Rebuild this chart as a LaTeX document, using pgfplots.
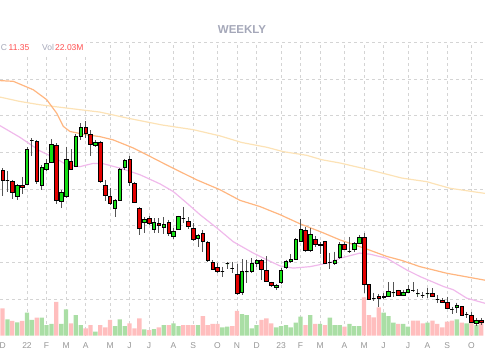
\documentclass[border=0pt]{standalone}
\usepackage{pgfplots}
\pgfplotsset{compat=1.18}
\usepackage{pgfplotstable}
\usepackage{fontspec}
\setmainfont{Liberation Sans}

\definecolor{candlered}{RGB}{228,0,0}
\definecolor{candlegreen}{RGB}{20,222,20}
\definecolor{wickcol}{RGB}{85,85,85}
\definecolor{volred}{RGB}{255,190,190}
\definecolor{volgreen}{RGB}{170,222,165}
\definecolor{mapink}{RGB}{240,185,235}
\definecolor{maorange}{RGB}{255,182,128}
\definecolor{mapale}{RGB}{252,226,182}
\definecolor{gridcol}{RGB}{212,212,212}
\definecolor{labelcol}{RGB}{150,150,150}
\definecolor{titlecol}{RGB}{165,168,185}
\definecolor{legred}{RGB}{255,80,80}

\pgfdeclareplotmark{blankmark}{}

\pgfplotstableread{
i O H L C V up
-5 15.52 15.57 14.81 15.23 41.0 0
-4 15.25 15.50 14.92 15.25 24.4 1
-3 15.22 15.25 14.73 14.92 21.9 0
-2 14.81 15.14 14.70 15.09 19.9 1
-1 15.11 15.33 14.87 15.06 21.9 0
0 15.14 16.14 15.10 16.08 34.4 1
1 16.34 16.39 15.89 16.34 23.4 1
2 16.29 16.34 15.14 15.20 26.9 0
3 15.11 15.66 14.98 15.60 26.9 1
4 15.54 15.83 15.50 15.69 15.8 1
5 15.74 16.36 15.72 16.21 17.4 1
6 16.18 16.25 14.60 14.69 50.6 0
7 14.66 14.98 14.47 14.90 17.4 1
8 14.79 16.16 14.76 15.82 39.5 1
9 15.75 16.09 15.52 15.54 18.4 0
10 15.61 16.50 15.59 16.43 30.9 1
11 16.45 16.80 16.34 16.69 15.8 1
12 16.69 16.85 16.40 16.51 10.9 0
13 16.49 16.60 15.89 16.21 15.8 0
14 16.18 16.33 16.16 16.28 5.7 1
15 16.27 16.32 15.16 15.20 15.8 0
16 15.11 15.25 14.68 14.84 12.4 0
17 14.81 15.03 14.57 14.60 23.4 0
18 14.48 14.72 14.24 14.68 14.3 1
19 14.70 15.57 14.69 15.54 24.4 1
20 15.60 15.82 15.52 15.78 14.3 1
21 15.82 15.91 15.09 15.18 18.4 0
22 15.16 15.20 14.61 14.63 10.9 0
23 14.48 14.51 13.75 13.93 26.0 0
24 14.08 14.23 13.81 14.16 9.4 1
25 14.20 14.27 14.02 14.07 8.3 0
26 13.90 14.20 13.81 14.10 9.8 1
27 14.05 14.20 13.80 14.02 12.4 0
28 13.96 14.23 13.78 14.04 15.8 1
29 14.09 14.16 13.72 13.78 15.8 0
30 13.72 13.93 13.63 13.84 18.4 1
31 13.90 14.27 13.89 14.25 14.3 1
32 14.20 14.51 14.08 14.20 15.8 0
33 14.11 14.23 13.90 13.99 15.8 0
34 13.93 14.07 13.59 13.63 15.8 0
35 13.65 13.78 13.43 13.74 15.8 1
36 13.78 13.87 13.29 13.57 29.4 0
37 13.54 13.57 13.02 13.05 15.8 0
38 12.99 13.05 12.79 12.81 17.4 0
39 12.87 12.98 12.72 12.75 17.4 0
40 12.75 12.88 12.61 12.75 12.4 1
41 12.96 13.02 12.81 12.96 13.3 1
42 12.84 13.02 12.70 12.84 14.3 0
43 12.68 12.96 12.11 12.14 37.0 0
44 12.17 13.08 12.11 12.75 32.4 1
45 12.74 13.07 12.44 12.74 30.9 1
46 12.75 13.11 12.72 12.98 10.9 1
47 12.96 13.08 12.88 13.05 15.8 1
48 13.05 13.08 12.52 12.81 23.4 0
49 12.77 13.16 12.45 12.47 26.0 0
50 12.45 12.47 12.33 12.36 18.4 0
51 12.31 12.41 12.25 12.38 12.4 1
52 12.44 12.83 12.41 12.79 14.3 1
53 12.87 13.07 12.81 13.02 15.8 1
54 13.02 13.22 12.98 13.08 12.4 1
55 13.08 13.66 13.07 13.63 19.3 1
56 13.57 14.19 13.54 13.90 28.4 1
57 13.87 13.96 13.29 13.34 15.8 0
58 13.34 13.94 13.28 13.75 30.9 1
59 13.63 13.72 13.43 13.49 17.4 0
60 13.48 13.54 13.23 13.45 17.4 1
61 13.57 13.59 12.94 12.97 15.8 0
62 13.01 13.26 12.82 13.01 26.9 1
63 12.96 13.29 12.92 13.04 15.8 1
64 13.14 13.54 13.08 13.48 15.8 1
65 13.48 13.54 13.34 13.36 13.3 0
66 13.31 13.69 13.26 13.31 17.4 1
67 13.36 13.54 13.29 13.52 14.3 1
68 13.52 13.75 13.50 13.67 14.3 1
69 13.67 13.80 12.17 12.40 57.6 0
70 12.40 12.41 11.99 12.00 30.9 0
71 12.02 12.17 11.95 12.02 27.5 0
72 12.06 12.14 11.77 12.02 42.6 0
73 12.04 12.16 11.99 12.08 34.4 1
74 12.06 12.45 12.05 12.22 29.4 1
75 12.17 12.45 12.05 12.17 19.3 1
76 12.23 12.25 12.10 12.11 17.4 0
77 12.11 12.25 12.08 12.17 17.4 1
78 12.19 12.38 12.17 12.27 13.3 1
79 12.23 12.45 12.18 12.23 22.3 0
80 12.14 12.27 12.06 12.14 22.3 0
81 12.11 12.20 12.02 12.11 18.4 0
82 12.14 12.29 12.02 12.14 19.3 1
83 12.14 12.29 12.05 12.06 22.3 0
84 11.99 12.11 11.90 11.99 17.4 0
85 11.97 12.03 11.88 11.90 12.4 0
86 11.90 12.06 11.72 11.75 20.8 0
87 11.72 11.79 11.59 11.72 22.3 0
88 11.77 11.90 11.61 11.83 24.4 1
89 11.79 11.81 11.52 11.54 19.3 0
90 11.59 11.65 11.47 11.59 18.4 1
91 11.56 11.65 11.34 11.35 19.3 0
92 11.34 11.48 11.26 11.41 15.8 1
93 11.41 11.48 11.30 11.35 22.03 0
}\weekly

\pgfplotsset{
  candle/.style={
    scatter, only marks, mark=blankmark, point meta=y,
    visualization depends on={\thisrow{H}-\thisrow{O}\as\cndH},
    visualization depends on={\thisrow{L}-\thisrow{O}\as\cndL},
    visualization depends on={\thisrow{C}-\thisrow{O}\as\cndB},
    scatter/@pre marker code/.code={%
      \draw[wickcol, line width=0.8pt] (axis direction cs:0,\cndH) -- (axis direction cs:0,\cndL);
      \filldraw[fill=#1, draw=black, line width=0.6pt] (-1.75pt,0pt) rectangle ([xshift=1.75pt]axis direction cs:0,\cndB);
    },
    scatter/@post marker code/.code={},
  },
  chartpos/.style={
    at={(0pt,24.5pt)}, anchor=south west, width=485pt, height=293pt,
    scale only axis, xmin=-5.527, xmax=93.757,
  },
}

\begin{document}
\begin{tikzpicture}
\path[use as bounding box] (0,0) rectangle (485pt,360pt);

% grid and month labels
\begin{axis}[chartpos, ymin=11, ymax=19,
  axis line style={draw=none}, tick style={draw=none},
  xtick={0,4,8,12,17,21,25,30,34,39,43,47,52,56,60,65,69,73,78,82,86,91},
  xticklabels={22,F,M,A,M,J,J,A,S,O,N,D,23,F,M,A,M,J,J,A,S,O},
  extra x ticks={-5}, extra x tick labels={D},
  extra x tick style={grid=none},
  ytick={12,13,14,15,16,17,18,19}, yticklabels={},
  xmajorgrids, ymajorgrids,
  grid style={gridcol, dash pattern=on 3pt off 3pt, line width=0.6pt},
  typeset ticklabels with strut,
  xticklabel style={font=\fontsize{8.5}{10}\selectfont, text=labelcol, yshift=-2pt},
]
\addplot[draw=none, forget plot] coordinates {(0,12)};
\end{axis}

% volume
\begin{axis}[chartpos, ymin=0, ymax=442, hide axis]
\addplot[ybar, bar width=4.3pt, bar shift=0pt, fill=volgreen, draw=none,
  restrict expr to domain={\thisrow{up}}{0.5:1.5}] table[x=i, y=V] {\weekly};
\addplot[ybar, bar width=4.3pt, bar shift=0pt, fill=volred, draw=none,
  restrict expr to domain={\thisrow{up}}{-0.5:0.5}] table[x=i, y=V] {\weekly};
\end{axis}

% price
\begin{axis}[chartpos, ymin=11, ymax=19, hide axis]
\addplot[mapale, line width=1.2pt] coordinates {
(-5.53,17.51) (-1.43,17.39) (2.66,17.30) (8.13,17.21) (14.94,17.10) (20.41,16.94)
(27.57,16.75) (34.04,16.62) (39.51,16.45) (43.95,16.27) (49.07,16.14) (52.47,16.02)
(57.26,15.92) (60.33,15.80) (64.07,15.71) (70.21,15.52) (76.70,15.30) (81.82,15.20)
(86.59,15.02) (93.76,14.88)};
\addplot[maorange, line width=1.2pt] coordinates {
(-5.53,17.96) (-2.80,17.94) (1.29,17.71) (4.03,17.44) (6.08,17.07) (7.43,16.71)
(8.80,16.57) (12.22,16.48) (14.94,16.43) (17.67,16.34) (21.76,16.12) (25.18,15.89)
(29.27,15.61) (34.74,15.25) (39.51,14.98) (43.60,14.69) (47.70,14.52) (51.79,14.30)
(55.89,14.05) (60.33,13.82) (64.07,13.61) (69.54,13.36) (73.63,13.16) (76.70,13.05)
(80.45,12.88) (85.92,12.70) (93.76,12.51)};
\addplot[mapink, line width=1.2pt] coordinates {
(-5.53,16.73) (-1.43,16.41) (2.66,16.04) (6.08,15.82) (8.13,15.66) (10.85,15.61)
(13.57,15.70) (15.62,15.69) (19.04,15.57) (23.13,15.39) (27.23,15.14) (29.95,14.93)
(32.69,14.62) (35.41,14.30) (38.83,13.94) (42.23,13.56) (46.33,13.25) (49.07,13.07)
(51.79,12.90) (54.51,12.84) (57.93,12.88) (62.03,12.99) (64.07,13.11) (68.17,13.25)
(70.21,13.22) (73.63,13.11) (77.73,12.79) (80.45,12.61) (85.22,12.34) (87.27,12.25)
(90.01,12.02) (93.76,11.88)};
\addplot[candle=candlegreen, restrict expr to domain={\thisrow{C}-\thisrow{O}}{0:100}]
  table[x=i, y=O] {\weekly};
\addplot[candle=candlered, restrict expr to domain={\thisrow{C}-\thisrow{O}}{-100:-0.001}]
  table[x=i, y=O] {\weekly};
\end{axis}

% title and legend
\node[anchor=base, inner sep=0pt, text=titlecol, font=\fontsize{11.5}{13}\selectfont\bfseries] at (242pt,326.7pt) {WEEKLY};
\fill[white] (0pt,305pt) rectangle (86pt,319pt);
\node[anchor=base west, inner sep=0pt, font=\fontsize{8.5}{10}\selectfont, text=titlecol] at (0.8pt,309.3pt) {C};
\node[anchor=base west, inner sep=0pt, font=\fontsize{8.5}{10}\selectfont, text=legred] at (8.5pt,309.3pt) {11.35};
\node[anchor=base west, inner sep=0pt, font=\fontsize{8.5}{10}\selectfont, text=titlecol] at (42pt,309.3pt) {Vol};
\node[anchor=base west, inner sep=0pt, font=\fontsize{8.5}{10}\selectfont, text=legred] at (55pt,309.3pt) {22.03M};
\end{tikzpicture}
\end{document}
